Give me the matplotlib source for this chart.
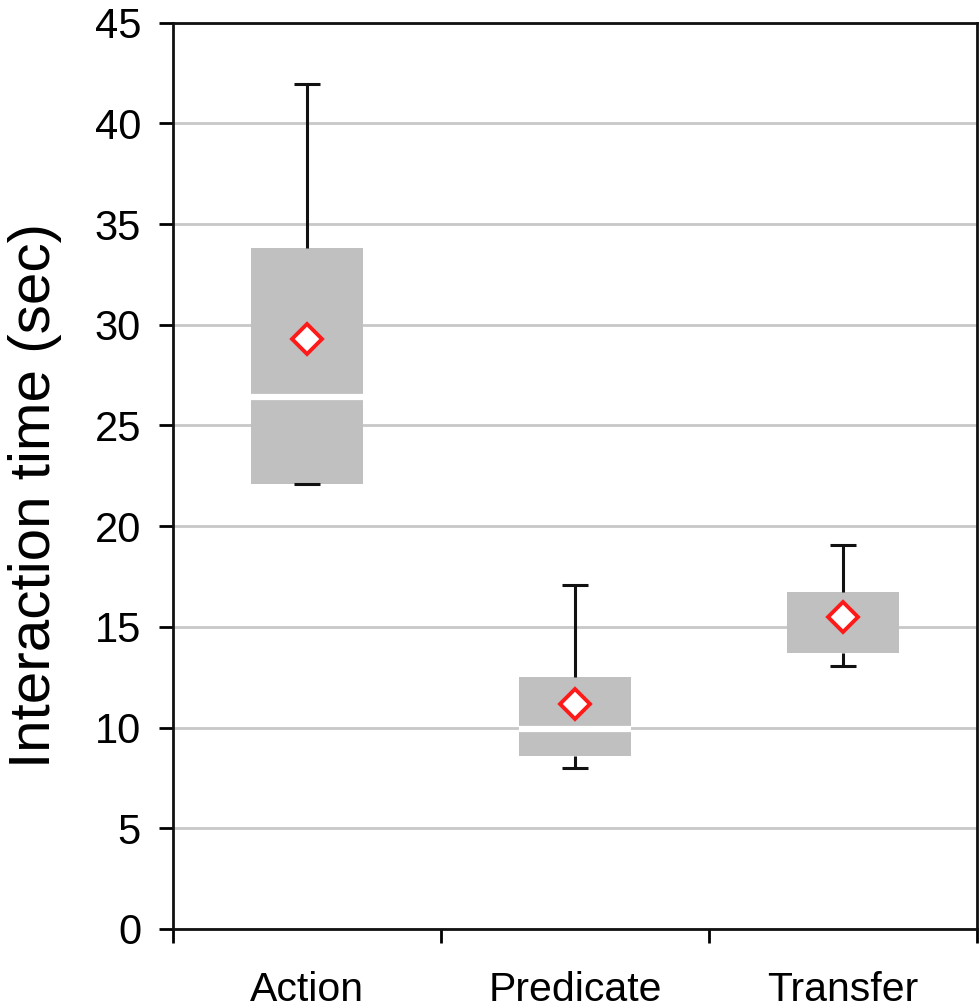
import matplotlib
matplotlib.use("Agg")
import matplotlib.pyplot as plt

plt.rcParams["font.family"] = ["Liberation Sans", "DejaVu Sans"]

categories = ["Action", "Predicate", "Transfer"]
whisker_low = [22.1, 8.0, 13.05]
box_low = [22.1, 8.6, 13.7]
medians = [26.4, 9.95, None]  # no median line is visible for Transfer
box_high = [33.8, 12.5, 16.75]
whisker_high = [41.95, 17.1, 19.05]
means = [29.3, 11.15, 15.5]

box_color = "#c0c0c0"
grid_color = "#c8c8c8"

fig = plt.figure(figsize=(9.8, 10.08), dpi=100)
ax = fig.add_axes([0.1765, 0.0784, 0.8205, 0.8991])

xs = [i + 1 for i in range(len(categories))]
box_w = 0.42
cap_w = 0.1

for x, lo, ql, med, qh, hi, mu in zip(xs, whisker_low, box_low, medians,
                                      box_high, whisker_high, means):
    ax.bar(x, qh - ql, bottom=ql, width=box_w, color=box_color,
           edgecolor="none", zorder=2)
    if med is not None:
        ax.hlines(med, x - box_w / 2, x + box_w / 2, colors="white",
                  linewidth=4.5, zorder=3)
    ax.vlines(x, qh, hi, colors="#111111", linewidth=2.2, zorder=3)
    ax.vlines(x, lo, ql, colors="#111111", linewidth=2.2, zorder=3)
    ax.hlines([lo, hi], x - cap_w / 2, x + cap_w / 2, colors="#111111",
              linewidth=2.2, zorder=3)
    ax.plot(x, mu, marker="D", markersize=15, markerfacecolor="white",
            markeredgecolor="#ff1a1a", markeredgewidth=2.8, zorder=4)

ax.set_xlim(0.5, len(categories) + 0.5)
ax.set_ylim(0, 45)
ax.set_yticks(range(0, 46, 5))
ax.yaxis.grid(True, color=grid_color, linewidth=2)
ax.set_axisbelow(True)

ax.set_xticks([i + 0.5 for i in range(len(categories) + 1)])
ax.set_xticklabels([])
ax.set_xticks(xs, minor=True)
ax.set_xticklabels(categories, minor=True)
ax.tick_params(axis="x", which="major", direction="out", length=10, width=2)
ax.tick_params(axis="x", which="minor", length=0, pad=30, labelsize=29.5)
ax.tick_params(axis="y", direction="out", length=10, width=2, pad=13,
               labelsize=30)

for side in ["left", "right", "top", "bottom"]:
    ax.spines[side].set_linewidth(2)
    ax.spines[side].set_color("#111111")

ax.set_ylabel("Interaction time (sec)", fontsize=42)
ax.yaxis.set_label_coords(-0.138, 0.4785)

fig.savefig("out.png", dpi=100)
